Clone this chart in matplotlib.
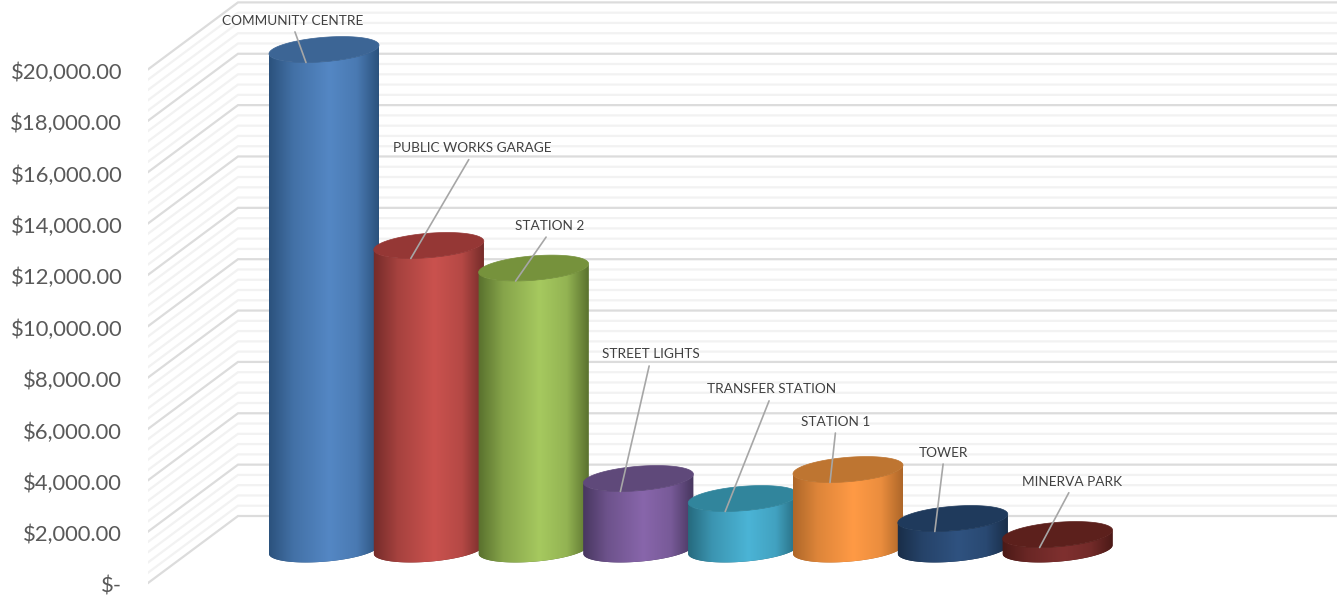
import numpy as np
import matplotlib
matplotlib.use('Agg')
import matplotlib.pyplot as plt
from matplotlib.colors import to_rgb
from matplotlib.patches import Polygon
from matplotlib.transforms import ScaledTranslation

plt.rcParams['font.family'] = ['Lato', 'DejaVu Sans']

# building electricity costs, front to back order of the columns
sites = ['COMMUNITY CENTRE', 'PUBLIC WORKS GARAGE', 'STATION 2', 'STREET LIGHTS',
         'TRANSFER STATION', 'STATION 1', 'TOWER', 'MINERVA PARK']
costs = [19470, 11840, 10960, 2765, 1986, 3115, 1207, 584]
major_ticks = list(range(0, 20001, 2000))
minor_ticks = [v for v in range(0, 20001, 400) if v % 2000]

# colours: lit centre of the column, shaded edge, top cap
lit_colors = ['#5487c4', '#ca524e', '#a6c95f', '#8866ab', '#4bb4d6', '#ff9a45', '#2f5280', '#7f302f']
edge_colors = ['#2b527d', '#762c2a', '#5a722e', '#483760', '#266a7e', '#ae6729', '#192e49', '#4c1a17']
top_colors = ['#3c6595', '#953735', '#76923c', '#5f497a', '#31859c', '#be7531', '#1f3a5c', '#5c201c']

# leader line offsets from the cap to the label centre, in pixels
label_offsets = [(-13, 42), (61, 110), (34, 55), (30, 137), (46, 122), (6, 61), (9, 79), (32, 66)]

W, H = 1343, 596
PX_PER_VALUE = 0.02568
PX_PER_SLOT = 104.8
BASE_Y = 549.5           # pixel row of value 0 in the plane of the columns
SLOT0_X = 324            # pixel column of the first column centre
DEPTH_Y = 33.5 / PX_PER_VALUE   # half depth of the floor, as value units
RX = 55 / PX_PER_SLOT    # column radius
RY = 12.2 / PX_PER_VALUE
SHEAR = 4.3 / PX_PER_VALUE


def cap_outline(x, v, t):
    return x + RX * np.cos(t), v + RY * np.sin(t) + SHEAR * np.cos(t)


def draw_column(ax, x, v, lit, edge, top, z):
    # body outline: lower half of the base ellipse, then up and along the lower half of the cap
    t = np.linspace(np.pi, 2 * np.pi, 80)
    bx, by = cap_outline(x, 0, t)
    tx, ty = cap_outline(x, v, t[::-1])
    outline = np.column_stack([np.r_[bx, tx], np.r_[by, ty]])

    # shading across the column
    s = np.linspace(0, 1, 220)
    shade = np.interp(s, [0, 0.22, 0.55, 0.8, 1], [1, 0.42, 0, 0.25, 1])
    lit, edge = np.array(to_rgb(lit)), np.array(to_rgb(edge))
    grad = (lit[None, :] * (1 - shade[:, None]) + edge[None, :] * shade[:, None])[None, :, :]

    body = Polygon(outline, closed=True, facecolor=edge, edgecolor='none', zorder=z)
    ax.add_patch(body)
    im = ax.imshow(grad, extent=(x - RX, x + RX, -RY * 2, v + RY * 2), aspect='auto',
                   interpolation='bilinear', zorder=z + 0.1)
    im.set_clip_path(body)

    t = np.linspace(0, 2 * np.pi, 160)
    cx, cy = cap_outline(x, v, t)
    ax.fill(cx, cy, color=top, lw=0.5, zorder=z + 0.2)


fig = plt.figure(figsize=(W / 100, H / 100), dpi=100)
x_left, x_right = 148, 1337
ax = fig.add_axes([x_left / W, 0, (x_right - x_left) / W, 1])

# gridlines run along the side wall and then along the back wall
back_x = (238 - SLOT0_X) / PX_PER_SLOT
front_x = (x_left - SLOT0_X) / PX_PER_SLOT
end_x = (x_right - SLOT0_X) / PX_PER_SLOT
for v in minor_ticks:
    ax.plot([front_x, back_x, end_x], [v - DEPTH_Y, v + DEPTH_Y, v + DEPTH_Y],
            color='#f2f2f2', lw=1.6, solid_joinstyle='miter', zorder=1)
for v in major_ticks:
    ax.plot([front_x, back_x, end_x], [v - DEPTH_Y, v + DEPTH_Y, v + DEPTH_Y],
            color='#dcdcdc', lw=1.6, solid_joinstyle='miter', zorder=2)

for i, v in enumerate(costs):
    draw_column(ax, i, v, lit_colors[i], edge_colors[i], top_colors[i], 3 + i)

for i, v in enumerate(costs):
    ax.annotate(sites[i], xy=(i - 18 / PX_PER_SLOT, v - 13 / PX_PER_VALUE),
                xytext=label_offsets[i], textcoords='offset pixels',
                ha='center', va='center', fontsize=9.85, color='#404040', zorder=20,
                arrowprops=dict(arrowstyle='-', color='#a6a6a6', lw=1.2,
                                shrinkA=2, shrinkB=0, relpos=(0.5, 0)))

ax.set_xlim(front_x, end_x)
ax.set_ylim(-(H - BASE_Y) / PX_PER_VALUE, BASE_Y / PX_PER_VALUE)
ax.set_yticks([v - DEPTH_Y for v in major_ticks])
ax.set_yticklabels(['$-' if v == 0 else '${:,.2f}'.format(v) for v in major_ticks],
                   fontsize=15.8, color='#595959')
ax.tick_params(axis='y', length=0, pad=18.5)
# nudge the value labels down a touch from their gridlines
nudge = ScaledTranslation(0, -1.5 / 100, fig.dpi_scale_trans)
for lab in ax.get_yticklabels():
    lab.set_transform(lab.get_transform() + nudge)
ax.set_xticks([])
for side in ax.spines.values():
    side.set_visible(False)
ax.patch.set_alpha(0)

fig.savefig('out.png', dpi=100)
